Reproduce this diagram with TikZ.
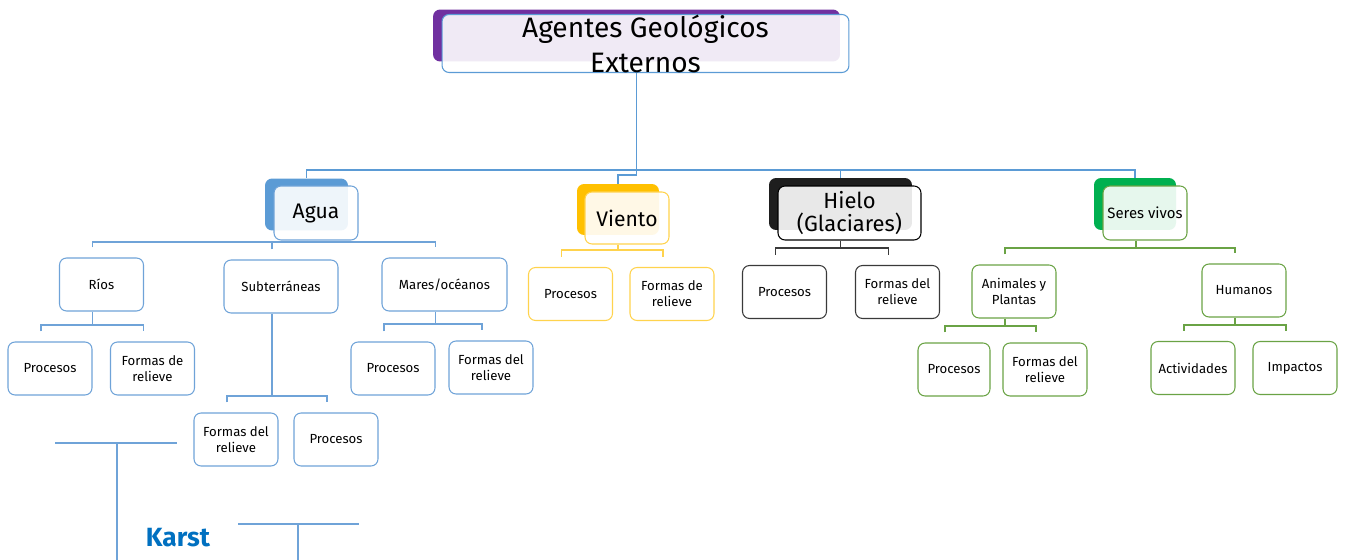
\documentclass[tikz,border=0pt]{standalone}
\usepackage{fontspec}
\setmainfont{Fira Sans}
\usetikzlibrary{positioning}

\definecolor{titlepurple}{HTML}{7030A0}
\definecolor{aguablue}{HTML}{5B9BD5}
\definecolor{aguaedge}{HTML}{6FA3D8}
\definecolor{vientoyel}{HTML}{FFC000}
\definecolor{vientoedge}{HTML}{FFD34D}
\definecolor{hieloblk}{HTML}{1E1E1E}
\definecolor{hieloedge}{HTML}{3A3A3A}
\definecolor{seresgreen}{HTML}{00B050}
\definecolor{seresedge}{HTML}{6AA345}
\definecolor{karstblue}{HTML}{0070C0}

\tikzset{
  shadowbox/.style={rounded corners=4pt, fill=#1, draw=none, inner sep=0pt},
  frontbox/.style={rounded corners=4pt, draw=#1, fill=white, fill opacity=0.9,
    text opacity=1, line width=0.6pt, align=center, inner sep=0pt},
  leaf/.style={rounded corners=4pt, draw=#1, fill=white, line width=0.6pt,
    align=center, inner sep=0pt, minimum width=1.68cm, minimum height=1.06cm,
    font=\fontsize{7.5}{9}\selectfont},
  link/.style={draw=#1, line width=0.6pt},
}

% fork: colour, parent, bar y (px), left child, right child
\newcommand{\branch}[5]{%
  \path ([xshift=-0.18cm]#2.south) coordinate (bp)
        ([xshift=-0.18cm,yshift=0.2cm]#4.north) coordinate (bl)
        ([xshift=-0.18cm,yshift=0.2cm]#5.north) coordinate (br);
  \draw[link=#1] (bp) -- (bp |- 0,#3);
  \draw[link=#1] (bl) |- (br |- 0,#3) -- (br);
}

\begin{document}
\begin{tikzpicture}[x=0.02cm, y=-0.02cm]
\useasboundingbox (0,0) rectangle (1345,560);

% heads with their shadows
\node[shadowbox=titlepurple, minimum width=8.14cm, minimum height=1.04cm] (titleB) at (636.5,35.5) {};
\node[frontbox=aguablue, minimum width=8.14cm, minimum height=1.06cm,
  font=\fontsize{16}{20}\selectfont] (titleF) at (645.5,43.5) {Agentes Geológicos\\Externos};

\node[shadowbox=aguablue, minimum width=1.66cm, minimum height=1.04cm] (aguaB) at (306.5,204.5) {};
\node[frontbox=aguaedge, minimum width=1.68cm, minimum height=1.08cm,
  font=\fontsize{12}{14}\selectfont] (aguaF) at (316,213) {Agua};

\node[shadowbox=vientoyel, minimum width=1.64cm, minimum height=1.02cm] (vientoB) at (618,209.5) {};
\node[frontbox=vientoedge, minimum width=1.68cm, minimum height=1.04cm,
  font=\fontsize{12}{14}\selectfont] (vientoF) at (627,218) {Viento};

\node[shadowbox=hieloblk, minimum width=2.86cm, minimum height=1.04cm] (hieloB) at (840.5,204) {};
\node[frontbox=black, minimum width=2.86cm, minimum height=1.08cm,
  font=\fontsize{12.5}{13.6}\selectfont] (hieloF) at (849.5,213) {Hielo\\(Glaciares)};

\node[shadowbox=seresgreen, minimum width=1.64cm, minimum height=1.04cm] (seresB) at (1135,204) {};
\node[frontbox=seresedge, minimum width=1.68cm, minimum height=1.08cm,
  font=\fontsize{8.5}{10}\selectfont] (seresF) at (1145,213) {Seres vivos};

% agua
\node[leaf=aguaedge] (rios) at (101.5,284.5) {Ríos};
\node[leaf=aguaedge, minimum width=2.28cm] (subt) at (281,286.5) {Subterráneas};
\node[leaf=aguaedge, minimum width=2.5cm] (mares) at (444.5,284.5) {Mares/océanos};
\node[leaf=aguaedge] (riosP) at (50,368.5) {Procesos};
\node[leaf=aguaedge] (riosF) at (152.5,368.5) {Formas de\\relieve};
\node[leaf=aguaedge] (subtF) at (236,439.5) {Formas del\\relieve};
\node[leaf=aguaedge] (subtP) at (336,439.5) {Procesos};
\node[leaf=aguaedge] (maresP) at (393,368.5) {Procesos};
\node[leaf=aguaedge] (maresF) at (491,367.5) {Formas del\\relieve};

% viento
\node[leaf=vientoedge] (vientoP) at (570.5,294) {Procesos};
\node[leaf=vientoedge] (vientoR) at (672,294) {Formas de\\relieve};

% hielo
\node[leaf=hieloedge] (hieloP) at (784.5,292) {Procesos};
\node[leaf=hieloedge] (hieloR) at (897.5,292) {Formas del\\relieve};

% seres vivos
\node[leaf=seresedge] (anim) at (1014,291.5) {Animales y\\Plantas};
\node[leaf=seresedge] (hum) at (1244,290.5) {Humanos};
\node[leaf=seresedge, minimum width=1.44cm] (animP) at (954,369.5) {Procesos};
\node[leaf=seresedge] (animF) at (1045,369.5) {Formas del\\relieve};
\node[leaf=seresedge] (humA) at (1193,368) {Actividades};
\node[leaf=seresedge] (humI) at (1295,368) {Impactos};

% main tree
\path ([xshift=-0.18cm]titleF.south) coordinate (top);
\draw[link=aguablue] (top) -- (top |- 0,170) coordinate (hub);
\draw[link=aguablue] (aguaB.north) |- (seresB.north |- 0,170) -- (seresB.north);
\draw[link=aguablue] (hieloB.north) -- (hieloB.north |- 0,170);
\draw[link=aguablue] (hub) -- ++(0,5) -| (vientoB.north);

% forks
\path ([xshift=-0.18cm]aguaF.south) coordinate (ap)
      ([xshift=-0.18cm,yshift=0.2cm]rios.north) coordinate (a1)
      ([xshift=-0.18cm,yshift=0.2cm]subt.north) coordinate (a2)
      ([xshift=-0.18cm,yshift=0.2cm]mares.north) coordinate (a3);
\draw[link=aguaedge] (ap) -- (ap |- 0,242);
\draw[link=aguaedge] (a1) |- (a3 |- 0,242) -- (a3);
\draw[link=aguaedge] (a2) -- (a2 |- 0,242);
\branch{aguaedge}{rios}{325}{riosP}{riosF}
\branch{aguaedge}{subt}{396}{subtF}{subtP}
\branch{aguaedge}{mares}{324}{maresP}{maresF}
\branch{vientoedge}{vientoF}{250}{vientoP}{vientoR}
\branch{hieloedge}{hieloF}{248}{hieloP}{hieloR}
\branch{seresedge}{seresF}{248}{anim}{hum}
\branch{seresedge}{anim}{326}{animP}{animF}
\branch{seresedge}{hum}{325}{humA}{humI}

% karst
\coordinate (k1) at (55,443);
\coordinate (k2) at (177,443);
\coordinate (k3) at (117,443);
\coordinate (k4) at (117,560);
\coordinate (k5) at (238,524);
\coordinate (k6) at (359,524);
\coordinate (k7) at (298,524);
\coordinate (k8) at (298,560);
\draw[link=aguaedge] (k1) -- (k2) (k3) -- (k4) (k5) -- (k6) (k7) -- (k8);
\node[text=karstblue, font=\fontsize{15}{18}\bfseries] (karst) at (178,538) {Karst};
\end{tikzpicture}
\end{document}
